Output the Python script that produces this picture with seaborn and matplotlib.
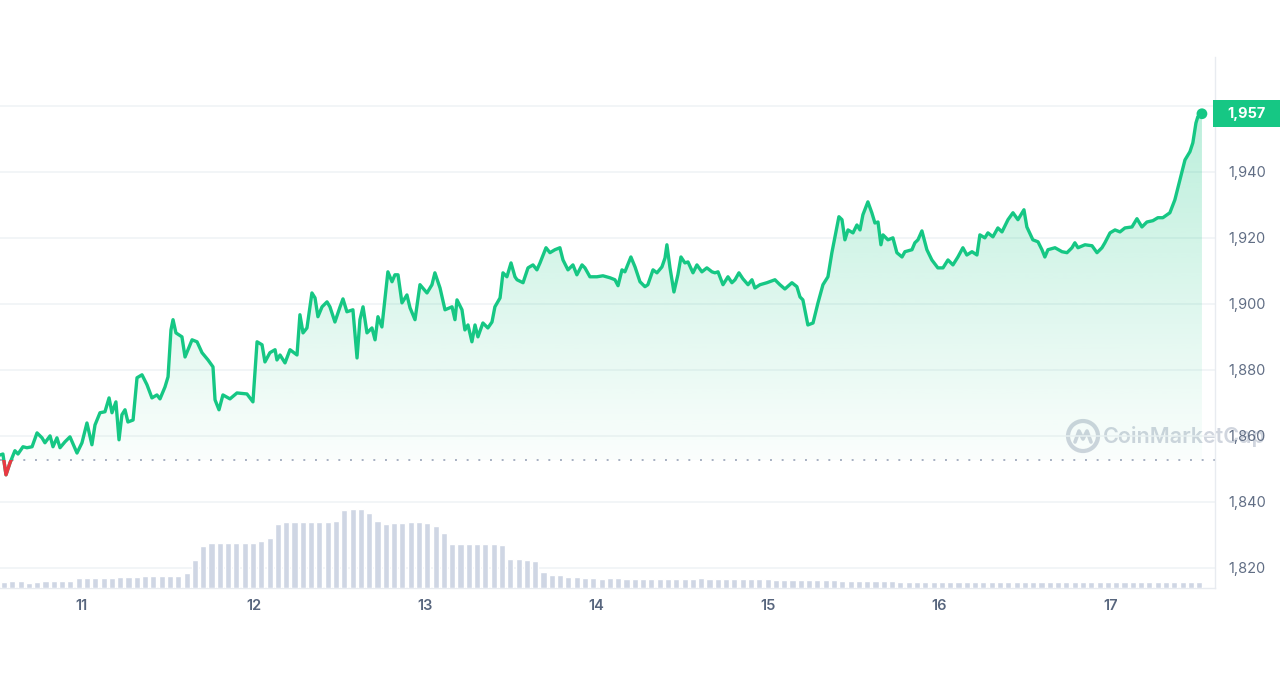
import numpy as np
import pandas as pd
import matplotlib
matplotlib.use("Agg")
import matplotlib.pyplot as plt
import matplotlib.transforms as mtransforms
from matplotlib.patches import PathPatch, Rectangle, Ellipse
from matplotlib.lines import Line2D
import seaborn as sns

# ---------------- data ----------------
day = [10.522, 10.539, 10.557, 10.580, 10.609, 10.627, 10.656, 10.679, 10.709, 10.738,
       10.767, 10.784, 10.814, 10.831, 10.854, 10.872, 10.901, 10.930, 10.971, 11.000,
       11.029, 11.058, 11.076, 11.105, 11.134, 11.158, 11.175, 11.198, 11.216, 11.233,
       11.251, 11.268, 11.298, 11.321, 11.350, 11.379, 11.408, 11.437, 11.455, 11.484,
       11.502, 11.519, 11.531, 11.548, 11.583, 11.601, 11.642, 11.671, 11.700, 11.735,
       11.764, 11.776, 11.799, 11.822, 11.863, 11.904, 11.962, 11.997, 12.021, 12.050,
       12.067, 12.096, 12.126, 12.137, 12.155, 12.184, 12.213, 12.254, 12.271, 12.289,
       12.312, 12.341, 12.359, 12.376, 12.400, 12.429, 12.446, 12.475, 12.505, 12.522,
       12.545, 12.580, 12.604, 12.621, 12.639, 12.662, 12.691, 12.709, 12.726, 12.749,
       12.784, 12.808, 12.825, 12.843, 12.866, 12.895, 12.913, 12.942, 12.971, 13.012,
       13.041, 13.058, 13.088, 13.117, 13.158, 13.175, 13.187, 13.216, 13.233, 13.251,
       13.274, 13.292, 13.309, 13.338, 13.367, 13.391, 13.408, 13.438, 13.455, 13.478,
       13.502, 13.525, 13.537, 13.572, 13.601, 13.630, 13.653, 13.671, 13.706, 13.729,
       13.758, 13.787, 13.805, 13.834, 13.863, 13.886, 13.916, 13.933, 13.962, 14.003,
       14.038, 14.079, 14.108, 14.126, 14.149, 14.166, 14.201, 14.225, 14.254, 14.283,
       14.300, 14.330, 14.353, 14.382, 14.400, 14.411, 14.429, 14.452, 14.475, 14.493,
       14.516, 14.534, 14.563, 14.586, 14.615, 14.644, 14.674, 14.691, 14.709, 14.738,
       14.767, 14.790, 14.808, 14.831, 14.854, 14.884, 14.907, 14.924, 14.954, 14.994,
       15.041, 15.070, 15.099, 15.140, 15.169, 15.187, 15.204, 15.233, 15.263, 15.292,
       15.321, 15.350, 15.373, 15.391, 15.414, 15.432, 15.449, 15.467, 15.496, 15.519,
       15.537, 15.554, 15.583, 15.606, 15.624, 15.642, 15.659, 15.671, 15.700, 15.729,
       15.752, 15.782, 15.799, 15.840, 15.857, 15.875, 15.898, 15.927, 15.956, 15.991,
       16.021, 16.050, 16.079, 16.108, 16.137, 16.160, 16.190, 16.219, 16.236, 16.265,
       16.283, 16.312, 16.341, 16.365, 16.400, 16.429, 16.458, 16.493, 16.510, 16.545,
       16.575, 16.598, 16.615, 16.633, 16.674, 16.715, 16.744, 16.773, 16.790, 16.808,
       16.849, 16.890, 16.919, 16.948, 16.965, 16.995, 17.024, 17.053, 17.082, 17.123,
       17.152, 17.181, 17.210, 17.245, 17.274, 17.303, 17.327, 17.344, 17.362, 17.373,
       17.403, 17.432, 17.461, 17.478, 17.496, 17.507, 17.531]

price = [1854.2, 1854.5, 1848.2, 1851.8, 1855.5, 1854.5, 1856.7, 1856.4, 1856.7, 1860.9,
         1859.4, 1857.9, 1860.0, 1856.7, 1859.4, 1856.4, 1858.2, 1859.7, 1854.8, 1857.9,
         1863.9, 1857.3, 1863.3, 1867.0, 1867.3, 1871.5, 1867.0, 1870.3, 1858.8, 1866.4,
         1867.9, 1864.2, 1864.8, 1877.6, 1878.5, 1875.5, 1871.5, 1872.4, 1871.2, 1874.8,
         1877.9, 1892.1, 1895.2, 1891.2, 1890.0, 1883.9, 1889.1, 1888.5, 1885.2, 1883.0,
         1880.9, 1870.9, 1867.9, 1872.4, 1871.2, 1873.0, 1872.7, 1870.3, 1888.5, 1887.6,
         1882.4, 1885.2, 1886.1, 1883.0, 1884.5, 1882.1, 1886.1, 1884.5, 1896.7, 1891.2,
         1892.7, 1903.3, 1901.8, 1896.1, 1899.1, 1900.6, 1899.1, 1894.5, 1899.1, 1901.5,
         1897.6, 1898.2, 1883.6, 1895.2, 1899.1, 1891.2, 1892.7, 1889.1, 1896.1, 1893.0,
         1909.7, 1906.7, 1908.8, 1908.8, 1900.3, 1902.7, 1898.8, 1895.2, 1905.8, 1903.3,
         1905.8, 1909.4, 1904.8, 1898.2, 1899.1, 1895.2, 1901.2, 1898.2, 1892.1, 1893.6,
         1888.5, 1893.6, 1890.0, 1894.2, 1892.7, 1894.5, 1899.1, 1901.8, 1909.4, 1908.2,
         1912.4, 1908.2, 1907.3, 1906.4, 1910.9, 1911.8, 1910.3, 1912.4, 1917.0, 1915.5,
         1916.4, 1917.0, 1913.3, 1910.3, 1911.8, 1908.8, 1911.8, 1910.9, 1908.2, 1908.2,
         1908.5, 1907.9, 1907.3, 1905.5, 1910.3, 1909.7, 1914.2, 1911.2, 1906.7, 1905.2,
         1905.8, 1910.3, 1909.4, 1911.2, 1913.9, 1917.9, 1910.9, 1903.6, 1908.8, 1914.2,
         1912.4, 1912.7, 1909.4, 1911.8, 1909.7, 1910.9, 1909.7, 1909.4, 1909.7, 1905.8,
         1908.2, 1906.4, 1907.3, 1909.4, 1907.6, 1905.8, 1907.3, 1904.8, 1905.8, 1906.4,
         1907.3, 1905.8, 1904.5, 1906.4, 1905.2, 1902.1, 1901.2, 1893.6, 1894.2, 1900.3,
         1905.8, 1908.2, 1915.5, 1920.3, 1926.4, 1925.5, 1919.4, 1922.4, 1921.5, 1923.9,
         1922.4, 1927.0, 1930.9, 1927.6, 1924.5, 1924.8, 1917.9, 1920.9, 1919.4, 1920.0,
         1915.5, 1914.2, 1915.8, 1916.4, 1918.5, 1919.4, 1922.1, 1916.4, 1913.3, 1910.9,
         1910.9, 1913.3, 1911.8, 1914.2, 1917.0, 1914.8, 1915.8, 1914.8, 1920.9, 1920.0,
         1921.5, 1920.3, 1923.0, 1921.8, 1925.5, 1927.6, 1925.5, 1928.5, 1923.3, 1919.4,
         1918.8, 1916.4, 1914.2, 1916.4, 1917.0, 1915.8, 1915.5, 1917.0, 1918.5, 1917.0,
         1917.9, 1917.6, 1915.5, 1917.0, 1918.5, 1921.5, 1922.4, 1921.8, 1923.0, 1923.3,
         1925.8, 1923.3, 1924.8, 1925.2, 1926.1, 1926.1, 1927.0, 1927.6, 1930.0, 1931.5,
         1937.6, 1943.6, 1946.1, 1948.8, 1954.8, 1956.7, 1957.6]

baseline_price = 1852.7

volume = [6, 7, 7, 5, 6, 7, 7, 7, 7,
          10, 10, 10, 10, 10, 11, 11, 11,
          12, 12, 12, 12, 12,
          15, 28, 42,
          45, 45, 45, 45, 45, 45,
          47, 50, 64,
          66, 66, 66, 66, 66, 66,
          67, 78, 79, 79, 75, 67, 64, 65, 65, 66, 66, 65, 62, 55,
          44, 44, 44, 44, 44, 44, 43,
          29, 29, 28, 27,
          16, 13, 13, 11, 11,
          10, 10, 9, 10, 10,
          9, 9, 9, 9,
          9, 9, 9, 9, 9, 10, 9, 9, 9, 9, 9, 9, 9, 9,
          8, 8, 8, 8, 8, 8, 8, 8, 7, 7, 7, 7, 7, 7, 7,
          6, 6, 6, 6, 6, 6, 6, 6, 6, 6, 6, 6, 6, 6, 6, 6, 6, 6, 6, 6,
          6, 6, 6, 6, 6, 6, 6, 6, 6, 6, 6, 6, 6, 6, 6, 6, 6]
vol_first_day = 10.5453
vol_step_day = 0.0484

x_ticks = [11, 12, 13, 14, 15, 16, 17]
x_tick_labels = ["11", "12", "13", "14", "15", "16", "17"]
y_ticks = [1820, 1840, 1860, 1880, 1900, 1920, 1940, 1960]
y_tick_labels = ["1,820", "1,840", "1,860", "1,880", "1,900", "1,920", "1,940", "1,960"]

# ---------------- style ----------------
GREEN = "#16c784"
RED = "#ea3943"
BAR = "#cfd6e4"
GRID = "#eff2f5"
LABEL = "#616e85"
WATERMARK = "#d0d5de"

sns.set_theme(style="white")
plt.rcParams["font.family"] = ["Inter", "DejaVu Sans"]

XMIN, XMAX = 10.522, 17.607
YMIN, YMAX = 1813.9, 1974.8

fig = plt.figure(figsize=(12.8, 6.8), dpi=100)
fig.patch.set_facecolor("white")
ax = fig.add_axes([0.0, 0.1353, 0.9492, 0.7809])
ax.patch.set_visible(False)

df = pd.DataFrame({"day": day, "price": price})

# gradient area between line and baseline
fill = ax.fill_between(df["day"], df["price"], baseline_price,
                       facecolor="none", edgecolor="none")
clip_patch = PathPatch(fill.get_paths()[0], transform=ax.transData,
                       facecolor="none", edgecolor="none")
ax.add_patch(clip_patch)
grad = np.zeros((256, 1, 4))
grad[..., :3] = matplotlib.colors.to_rgb(GREEN)
grad[:, 0, 3] = np.linspace(0.02, 0.30, 256)
im = ax.imshow(grad, extent=[XMIN, XMAX, baseline_price, 1962], origin="lower",
               aspect="auto", zorder=1, interpolation="bilinear")
im.set_clip_path(clip_patch)

# baseline (dotted)
ax.axhline(baseline_price, color="#a7b0c2", linestyle=(0, (1, 5)), lw=1.4, zorder=2)

# price line
sns.lineplot(data=df, x="day", y="price", ax=ax, color=GREEN, linewidth=2.4,
             estimator=None, sort=False, zorder=3)
red_line, = ax.plot(df["day"], df["price"], color=RED, lw=2.4, zorder=4)
red_line.set_clip_path(Rectangle((XMIN, YMIN), XMAX - XMIN, baseline_price - YMIN,
                                 transform=ax.transData))
ax.scatter([day[-1]], [price[-1]], s=60, color=GREEN, zorder=5, clip_on=False,
           edgecolor="none")

# volume bars on a twin axis
ax2 = ax.twinx()
ax2.patch.set_visible(False)
vol_day = vol_first_day + vol_step_day * np.arange(len(volume))
sns.barplot(x=vol_day, y=volume, native_scale=True, width=0.74, color=BAR,
            saturation=1, errorbar=None, ax=ax2)
ax2.set_ylim(0, max(volume) * 6.72)
ax2.set_yticks([])
ax2.set_ylabel("")
ax2.set_xlabel("")
for s in ax2.spines.values():
    s.set_visible(False)

# axes styling
ax.set_xlim(XMIN, XMAX)
ax.set_ylim(YMIN, YMAX)
ax.set_xticks(x_ticks, x_tick_labels)
ax.set_yticks(y_ticks, y_tick_labels)
ax.yaxis.tick_right()
ax.yaxis.grid(True, color=GRID, lw=1.1)
ax.xaxis.grid(False)
ax.set_axisbelow(True)
ax.tick_params(axis="y", length=0, pad=9.5, labelsize=10.5, labelcolor=LABEL)
ax.tick_params(axis="x", length=0, pad=8, labelsize=10.5, labelcolor="#58667e")
for lbl in ax.get_xticklabels():
    lbl.set_fontweight("semibold")
ax.set_xlabel("")
ax.set_ylabel("")
for side in ("left", "top"):
    ax.spines[side].set_visible(False)
for side in ("right", "bottom"):
    ax.spines[side].set_color("#e8ebf0")
    ax.spines[side].set_linewidth(1.0)
ax2.set_xlim(XMIN, XMAX)

# current price badge
trans = mtransforms.blended_transform_factory(fig.transFigure, ax.transData)
badge_h = 8.2
fig.add_artist(Rectangle((0.9477, price[-1] - badge_h / 2), 1 - 0.9477, badge_h,
                         transform=trans, facecolor=GREEN, edgecolor="none", zorder=5))
fig.text((0.9477 + 1) / 2, price[-1], f"{int(price[-1]):,}", transform=trans,
         ha="center", va="center", color="white", fontsize=10.5, fontweight="bold",
         zorder=6)

# watermark
wm_y = 0.3588
fig.add_artist(Ellipse((0.8461, wm_y), 30 / 1280, 30 / 680, transform=fig.transFigure,
                       facecolor="none", edgecolor=WATERMARK, lw=3, zorder=-1))
mx = [0.8461 + v / 1280 for v in (-8, -4, 0, 4, 8)]
my = [wm_y + v / 680 for v in (-6, 5, -3, 5, -6)]
fig.add_artist(Line2D(mx, my, transform=fig.transFigure, color=WATERMARK, lw=2.6,
                      solid_joinstyle="round", zorder=-1))
fig.text(1103 / 1280, wm_y, "CoinMarketCap", fontsize=15.5, fontweight="semibold",
         color=WATERMARK, ha="left", va="center", zorder=-1)

fig.savefig("out.png", dpi=100)
